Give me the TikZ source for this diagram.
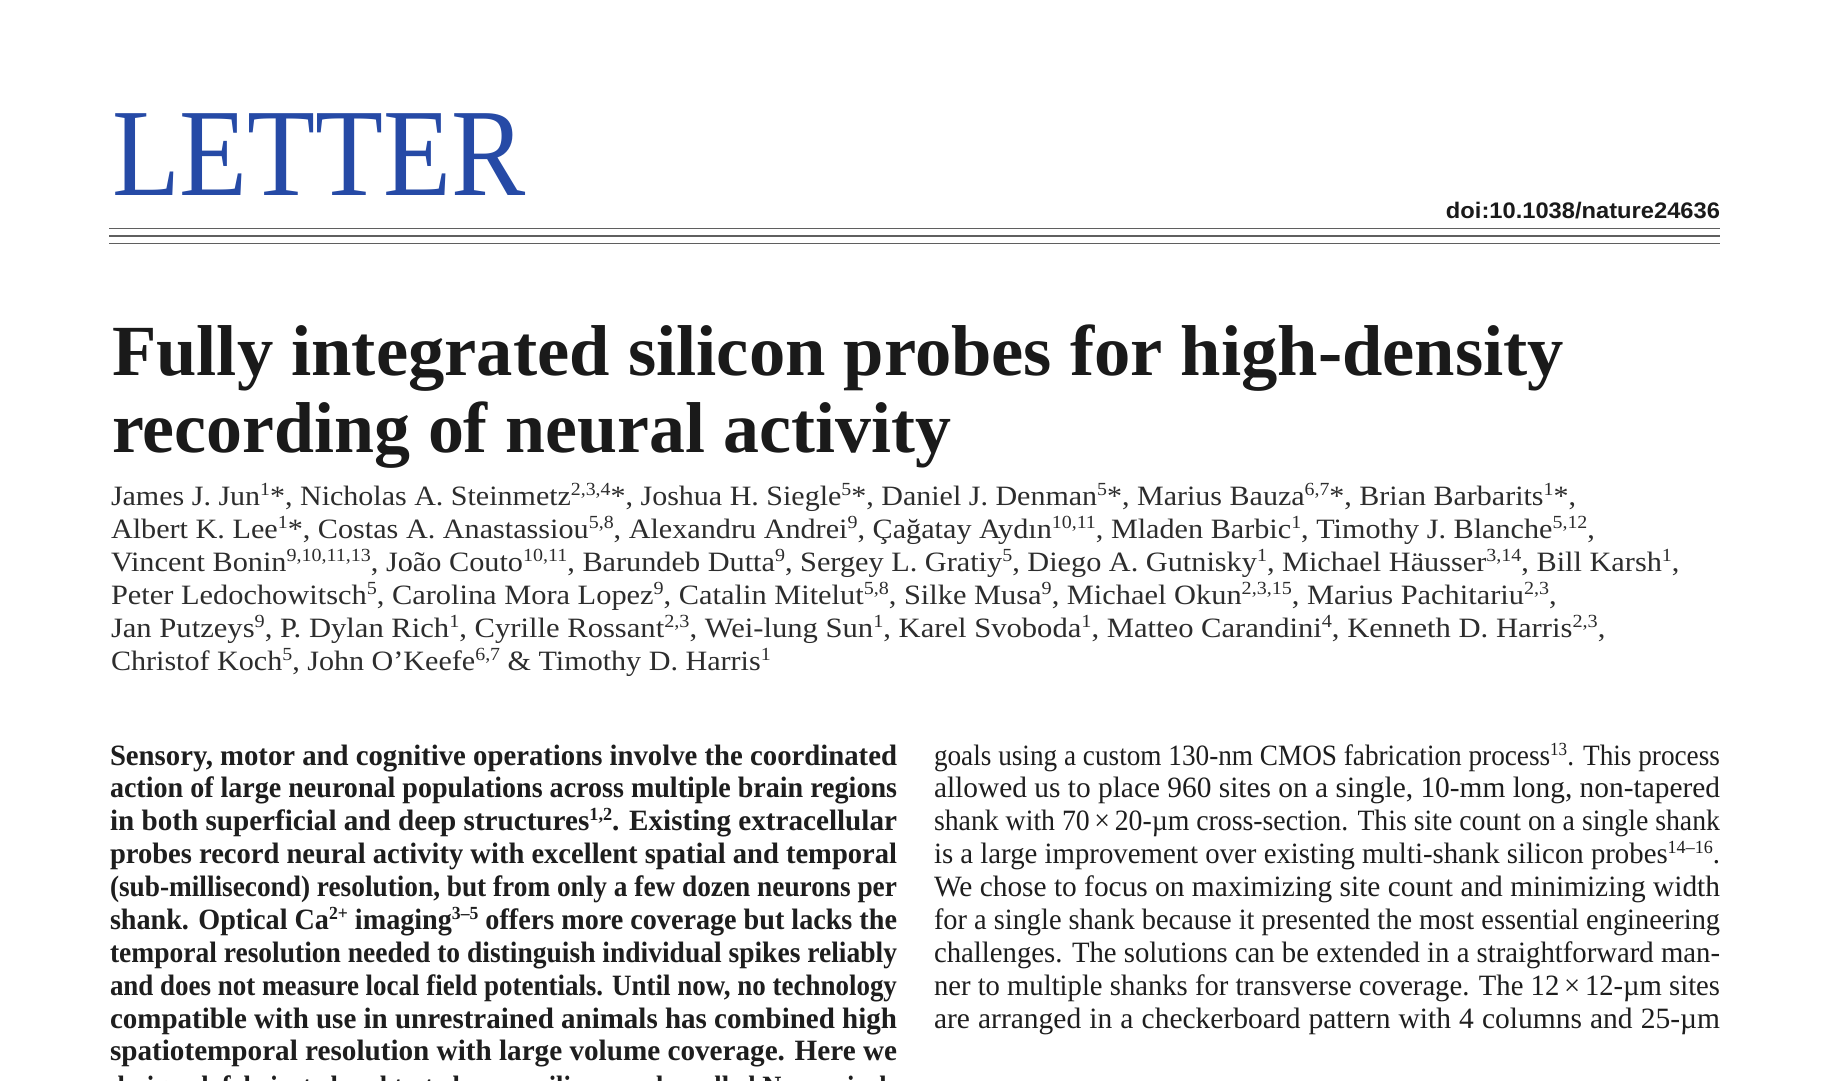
\documentclass[tikz,border=0pt]{standalone}
\usepackage{fontspec}
\usepackage{graphicx}
\setmainfont{Liberation Serif}
\newfontfamily\doifont{Liberation Sans}
\definecolor{letterblue}{RGB}{38,74,166}
\definecolor{titleblack}{RGB}{26,26,26}
\definecolor{bodyblack}{RGB}{30,30,30}
\definecolor{authgray}{RGB}{45,45,45}
\definecolor{rulegray}{RGB}{95,95,95}
\newdimen\jlw
\newdimen\authw
\newcommand\jline[2]{\settowidth\jlw{#2}\ifdim\jlw>#1\relax\resizebox{#1}{\height}{#2}\else\hbox to #1{#2}\fi}
\newcommand\su[1]{\raisebox{10pt}{\fontsize{18.5}{18.5}\selectfont #1}}
\newcommand\authA{James J. Jun\su{1}*, Nicholas A. Steinmetz\su{2,3,4}*, Joshua H. Siegle\su{5}*, Daniel J. Denman\su{5}*, Marius Bauza\su{6,7}*, Brian Barbarits\su{1}*,}
\begin{document}
\setbox0=\hbox{\fontsize{28}{32}\selectfont\authA}\global\authw=\wd0
\pgfmathsetmacro\authscale{1465/\authw}
\pgfmathsetmacro\asA{\authscale}
\pgfmathsetmacro\asB{\authscale*1.006}
\pgfmathsetmacro\asC{\authscale*1.009}
\pgfmathsetmacro\asD{\authscale*1.013}
\pgfmathsetmacro\asE{\authscale*1.020}
\pgfmathsetmacro\asF{\authscale*1.003}
\begin{tikzpicture}[x=1pt,y=-1pt,
  txt/.style={inner sep=0pt, outer sep=0pt, anchor=base west},
  rulel/.style={draw=rulegray, line width=1.4pt},
  letterst/.style={txt, text=letterblue, font=\fontsize{125}{125}\selectfont},
  titlest/.style={txt, text=titleblack, font=\fontsize{72}{72}\selectfont\bfseries},
  authst/.style={txt, text=authgray, font=\fontsize{28}{32}\selectfont},
  bodyb/.style={txt, text=bodyblack, font=\fontsize{29.5}{32}\selectfont\bfseries},
  bodyr/.style={txt, text=bodyblack, font=\fontsize{29.5}{32}\selectfont},
  doist/.style={txt, anchor=base east, text=titleblack, font=\doifont\fontsize{22.5}{22.5}\selectfont\bfseries}]
\useasboundingbox (0,0) rectangle (1848,1080);
\fill[white] (0,0) rectangle (1848,1080);
\clip (0,0) rectangle (1848,1080);
% header
\node[letterst] (letter) at (112,195) {\resizebox{414pt}{\height}{LETTER}};
\node[doist] (doi) at (1720,218) {\resizebox{274pt}{\height}{doi:10.1038/nature24636}};
\draw[rulel] (109,228.5) -- (1720,228.5);
\draw[rulel] (109,235.8) -- (1720,235.8);
\draw[rulel] (109,243.2) -- (1720,243.2);
% title
\node[titlest] (t1) at (112,375) {\resizebox{1452pt}{\height}{Fully integrated silicon probes for high-density}};
\node[titlest] (t2) at (112,452) {\resizebox{839pt}{\height}{recording of neural activity}};
% authors
\node[authst] (a1) at (111,505.0) {\scalebox{\asA}[1]{\authA}};
\node[authst] (a2) at (111,538.0) {\scalebox{\asB}[1]{Albert K. Lee\su{1}*, Costas A. Anastassiou\su{5,8}, Alexandru Andrei\su{9}, Çağatay Aydın\su{10,11}, Mladen Barbic\su{1}, Timothy J. Blanche\su{5,12},}};
\node[authst] (a3) at (111,571.0) {\scalebox{\asC}[1]{Vincent Bonin\su{9,10,11,13}, João Couto\su{10,11}, Barundeb Dutta\su{9}, Sergey L. Gratiy\su{5}, Diego A. Gutnisky\su{1}, Michael Häusser\su{3,14}, Bill Karsh\su{1},}};
\node[authst] (a4) at (111,604.0) {\scalebox{\asD}[1]{Peter Ledochowitsch\su{5}, Carolina Mora Lopez\su{9}, Catalin Mitelut\su{5,8}, Silke Musa\su{9}, Michael Okun\su{2,3,15}, Marius Pachitariu\su{2,3},}};
\node[authst] (a5) at (111,637.0) {\scalebox{\asE}[1]{Jan Putzeys\su{9}, P. Dylan Rich\su{1}, Cyrille Rossant\su{2,3}, Wei-lung Sun\su{1}, Karel Svoboda\su{1}, Matteo Carandini\su{4}, Kenneth D. Harris\su{2,3},}};
\node[authst] (a6) at (111,670.0) {\scalebox{\asF}[1]{Christof Koch\su{5}, John O’Keefe\su{6,7} \& Timothy D. Harris\su{1}}};
% left column (bold abstract)
\node[bodyb] (l1) at (110,765.0) {\jline{787pt}{Sensory, motor and cognitive operations involve the coordinated}};
\node[bodyb] (l2) at (110,797.9) {\jline{787pt}{action of large neuronal populations across multiple brain regions}};
\node[bodyb] (l3) at (110,830.7) {\jline{787pt}{in both superficial and deep structures\su{1,2}. Existing extracellular}};
\node[bodyb] (l4) at (110,863.6) {\jline{787pt}{probes record neural activity with excellent spatial and temporal}};
\node[bodyb] (l5) at (110,896.5) {\jline{787pt}{(sub-millisecond) resolution, but from only a few dozen neurons per}};
\node[bodyb] (l6) at (110,929.4) {\jline{787pt}{shank. Optical Ca\su{2+} imaging\su{3–5} offers more coverage but lacks the}};
\node[bodyb] (l7) at (110,962.2) {\jline{787pt}{temporal resolution needed to distinguish individual spikes reliably}};
\node[bodyb] (l8) at (110,995.1) {\jline{787pt}{and does not measure local field potentials. Until now, no technology}};
\node[bodyb] (l9) at (110,1028.0) {\jline{787pt}{compatible with use in unrestrained animals has combined high}};
\node[bodyb] (l10) at (110,1060.8) {\jline{787pt}{spatiotemporal resolution with large volume coverage. Here we}};
\node[bodyb] (l11) at (110,1096.5) {\jline{787pt}{designed, fabricated and tested a new silicon probe called Neuropixels}};
% right column
\node[bodyr] (r1) at (934,765.0) {\jline{786pt}{goals using a custom 130-nm CMOS fabrication process\su{13}. This process}};
\node[bodyr] (r2) at (934,797.9) {\jline{786pt}{allowed us to place 960 sites on a single, 10-mm long, non-tapered}};
\node[bodyr] (r3) at (934,830.7) {\jline{786pt}{shank with 70\,×\,20-µm cross-section. This site count on a single shank}};
\node[bodyr] (r4) at (934,863.6) {\jline{786pt}{is a large improvement over existing multi-shank silicon probes\su{14–16}.}};
\node[bodyr] (r5) at (934,896.5) {\jline{786pt}{We chose to focus on maximizing site count and minimizing width}};
\node[bodyr] (r6) at (934,929.4) {\jline{786pt}{for a single shank because it presented the most essential engineering}};
\node[bodyr] (r7) at (934,962.2) {\jline{786pt}{challenges. The solutions can be extended in a straightforward man-}};
\node[bodyr] (r8) at (934,995.1) {\jline{786pt}{ner to multiple shanks for transverse coverage. The 12\,×\,12-µm sites}};
\node[bodyr] (r9) at (934,1028.0) {\jline{786pt}{are arranged in a checkerboard pattern with 4 columns and 25-µm}};
\end{tikzpicture}
\end{document}
